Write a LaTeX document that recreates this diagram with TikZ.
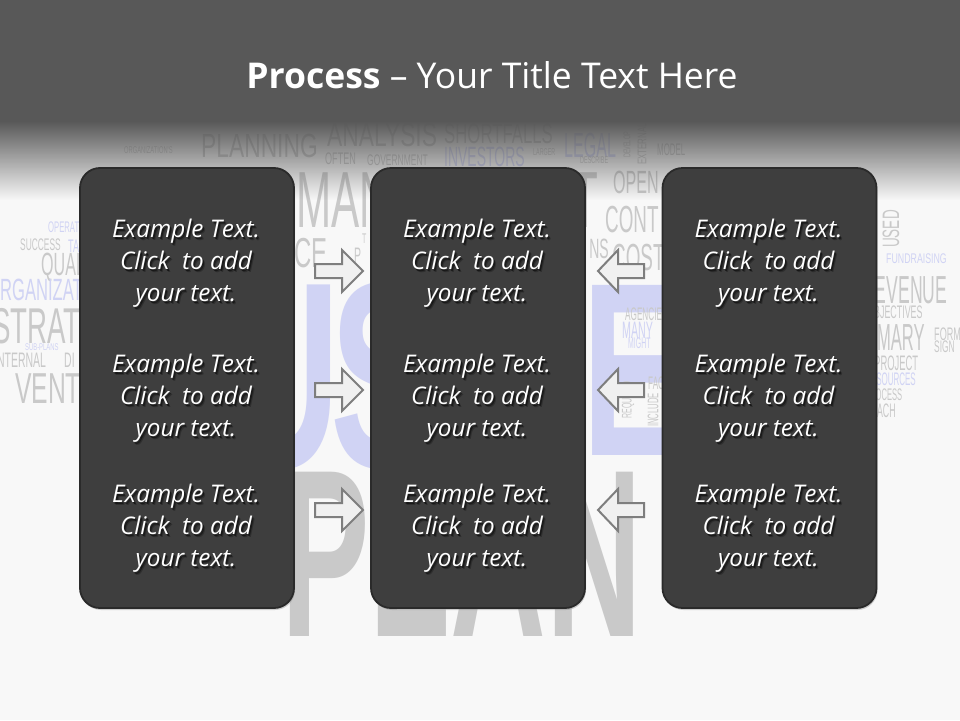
\documentclass[tikz,border=0pt]{standalone}
\usepackage{fontspec}
\setmainfont{Open Sans}
\newfontfamily\bgf{Liberation Sans}
\usetikzlibrary{shadows,fadings,calc}
\definecolor{barcol}{HTML}{585858}
\definecolor{pagebg}{HTML}{F8F8F8}
\definecolor{boxfill}{HTML}{3E3E3E}
\definecolor{boxedge}{HTML}{2A2A2A}
\definecolor{arrowfill}{HTML}{F0F0F0}
\definecolor{arrowedge}{HTML}{7E7E7E}
\definecolor{bgg}{HTML}{C9C9C9}
\definecolor{bgl}{HTML}{D0D3F4}
\tikzfading[name=fadedown, top color=transparent!0, middle color=transparent!72, bottom color=transparent!100]
\newcounter{bwc}
\newcommand\bgword[7][]{\stepcounter{bwc}\edef\bwname{bw\arabic{bwc}}%
  \pgfmathsetmacro\fsz{#4*1.397}%
  \node[anchor=base west, inner sep=0pt, text=#5, name=\bwname, font=\bgf#1\fontsize{\fsz pt}{\fsz pt}\selectfont] at (#2,#3) {\scalebox{#6}[1]{#7}};}
\newcommand\bgwordr[7][]{\stepcounter{bwc}\edef\bwname{bw\arabic{bwc}}%
  \pgfmathsetmacro\fsz{#4*1.397}%
  \node[anchor=base east, inner sep=0pt, text=#5, name=\bwname, font=\bgf#1\fontsize{\fsz pt}{\fsz pt}\selectfont] at (#2,#3) {\scalebox{#6}[1]{#7}};}
\newcommand\bgrot[6]{\stepcounter{bwc}\edef\bwname{bw\arabic{bwc}}%
  \pgfmathsetmacro\fsz{#3*1.397}%
  \node[anchor=center, rotate=90, inner sep=0pt, text=#4, name=\bwname, font=\bgf\fontsize{\fsz pt}{\fsz pt}\selectfont] at (#1,#2) {\scalebox{#5}[1]{#6}};}
\newcommand\ptxt{Example Text.\\Click\ \ to add\\your text.}
\begin{document}
\begin{tikzpicture}[x=1pt,y=-1pt,
  pbox/.style={draw=boxedge, line width=1.8pt, fill=boxfill, rounded corners=20pt,
    minimum width=214pt, minimum height=440pt, inner sep=0pt,
    drop shadow={opacity=0.35, shadow xshift=1pt, shadow yshift=-2pt}},
  ptext/.style={text=white, align=center, inner sep=0pt, font=\itshape\fontsize{24.3}{32}\selectfont},
  pshadow/.style={ptext, text=black, opacity=0.5},
  pshadowb/.style={ptext, text=black, opacity=0.25},
  blockarrow/.style={draw=arrowedge, line width=2pt, fill=arrowfill, line join=miter},
  rarrow/.pic={\draw[blockarrow] (-24,-7)--(3,-7)--(3,-21)--(24,0)--(3,21)--(3,7)--(-24,7)--cycle;},
  larrow/.pic={\draw[blockarrow] (23,-7)--(-3,-7)--(-3,-21)--(-23,0)--(-3,21)--(-3,7)--(23,7)--cycle;}
]
\useasboundingbox (0,0) rectangle (960,720);
\fill[pagebg] (0,0) rectangle (960,720);
\begin{scope}
\clip (0,0) rectangle (960,720);
% ---- background word cloud ----
\bgword{124}{153}{7}{bgg}{0.59}{ORGANIZATION'S}
\bgword{201}{157}{24}{bgg}{0.68}{PLANNING}
\bgword{327}{146}{24}{bgg}{0.68}{ANALYSIS}
\bgword{325}{164}{12}{bgg}{0.54}{OFTEN}
\bgword{367}{165}{11}{bgg}{0.55}{GOVERNMENT}
\bgword{444}{143}{20}{bgg}{0.60}{SHORTFALLS}
\bgword{444}{166}{20}{bgl}{0.50}{INVESTORS}
\bgword{533}{155}{7}{bgg}{0.55}{LARGER}
\bgword{564}{157}{25}{bgl}{0.46}{LEGAL}
\bgword{580}{163}{7}{bgg}{0.56}{DESCRIBE}
\bgrot{627}{145}{7}{bgg}{0.56}{DEVELOP}
\bgrot{642}{144}{9}{bgg}{0.63}{EXTERNAL}
\bgword{657}{155}{12}{bgg}{0.47}{MODEL}
% between boxes 1 and 2
\bgwordr[\bfseries]{341}{467}{190}{bgl}{0.61}{U}
\bgword[\bfseries]{330}{467}{190}{bgl}{0.61}{S}
\bgword{296}{227}{57}{bgg}{0.53}{MANAGEMENT}
\bgword{294}{267}{30}{bgg}{0.57}{CE}
\bgword{362}{243}{10}{bgg}{0.5}{T}
\bgword{354}{262}{15}{bgg}{0.5}{P}
% between boxes 2 and 3
\bgword[\bfseries]{582}{455}{177}{bgl}{0.61}{E}
\bgword{613}{193}{23}{bgg}{0.5}{OPEN}
\bgword{605}{232}{27}{bgg}{0.5}{CONT}
\bgwordr{609}{258}{20}{bgg}{0.5}{NS}
\bgword{612}{270}{27}{bgg}{0.5}{COSTS}
\bgword{625}{320}{13}{bgg}{0.45}{AGENCIES}
\bgword{622}{338}{17}{bgl}{0.45}{MANY}
\bgword{628}{348}{11}{bgl}{0.45}{MIGHT}
\bgrot{628}{400}{10}{bgg}{0.5}{REQUIRED}
\bgword{648}{389}{13}{bgg}{0.45}{FACT}
\bgrot{653}{410}{11}{bgg}{0.5}{INCLUDE}
% bottom
\bgword[\bfseries]{281}{636}{171}{bgg}{0.555}{PLAN}
% left edge
\bgword{48}{232}{11}{bgl}{0.5}{OPERATIONS}
\bgword{20}{250}{12}{bgg}{0.5}{SUCCESS}
\bgword{68}{252}{13}{bgl}{0.5}{TARGET}
\bgword{41}{275}{23}{bgg}{0.5}{QUALITY}
\bgword{-13}{300}{22}{bgl}{0.54}{ORGANIZATIONS}
\bgword{-8}{343}{36}{bgg}{0.55}{STRATEGY}
\bgword{25}{350}{7}{bgl}{0.6}{SUB-PLANS}
\bgword{-6}{367}{15}{bgg}{0.5}{INTERNAL}
\bgword{64}{367}{15}{bgg}{0.5}{DI}
\bgword{15}{403}{31}{bgg}{0.57}{VENTURE}
% right edge
\bgrot{891}{229}{17}{bgg}{0.57}{USED}
\bgword{886}{263}{10}{bgl}{0.63}{FUNDRAISING}
\bgword{862}{303}{28}{bgg}{0.45}{REVENUE}
\bgword{867}{318}{13}{bgg}{0.49}{OBJECTIVES}
\bgword{840}{350}{27}{bgg}{0.44}{SUMMARY}
\bgword{934}{340}{13}{bgg}{0.5}{FORM}
\bgword{934}{352}{12}{bgg}{0.5}{SIGN}
\bgword{874}{370}{15}{bgg}{0.45}{PROJECT}
\bgword{865}{385}{13}{bgl}{0.44}{RESOURCES}
\bgword{865}{400}{12}{bgg}{0.45}{PROCESS}
\bgword{871}{417}{14}{bgg}{0.45}{EACH}
\end{scope}
% ---- title bar ----
\fill[barcol] (-5,-5) rectangle (965,122);
\fill[barcol, path fading=fadedown] (-5,121) rectangle (965,200);
\node[text=white, inner sep=0pt, font=\fontsize{35.5}{42}\selectfont] (title) at (492,75)
  {\textbf{Process} – Your Title Text Here};
% ---- boxes ----
\node[pbox] (b1) at (187,388) {};
\node[pbox] (b2) at (478,388) {};
\node[pbox] (b3) at (769.5,388) {};
% ---- texts ----
\foreach \bx/\cx in {b1/186,b2/477,b3/768.5}{
  \foreach \row/\cy in {1/263.5,2/398.5,3/528.5}{
    \node[pshadowb] (\bx s2\row) at (\cx+2.5,\cy+2.5) {\ptxt};
    \node[pshadow] (\bx s\row) at (\cx+1.5,\cy+1.5) {\ptxt};
    \node[ptext] (\bx t\row) at (\cx,\cy) {\ptxt};
  }
}
% ---- arrows ----
\pic (ra1) at (339,271) {rarrow};
\pic (ra2) at (339,390) {rarrow};
\pic (ra3) at (339,510) {rarrow};
\pic (la1) at (621,271) {larrow};
\pic (la2) at (621,390) {larrow};
\pic (la3) at (621,510) {larrow};
\end{tikzpicture}
\end{document}
